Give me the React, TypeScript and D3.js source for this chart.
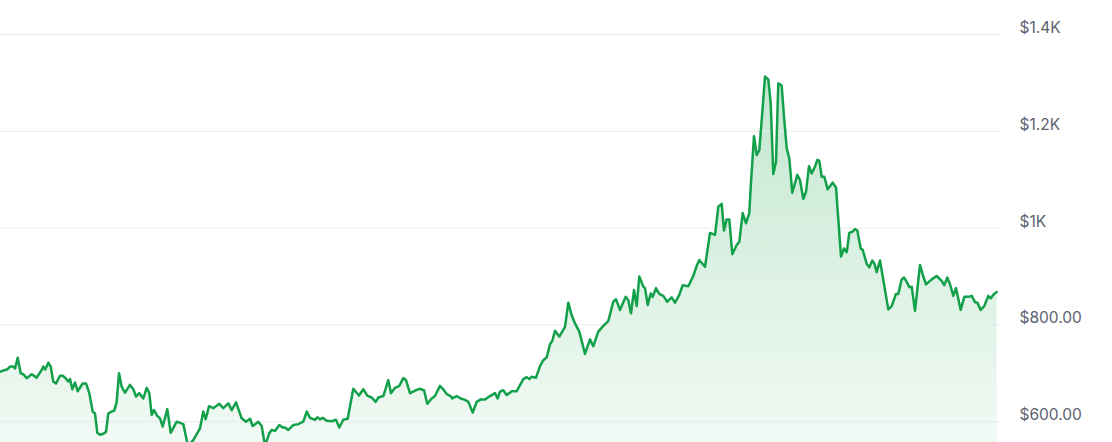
import React from "react";
import * as d3 from "d3";

// time position (day index) and price
const days: number[] = [
  0, 5, 7.3, 10, 13.3, 15, 17.7, 20.7, 23.3, 26.7, 31.7, 36.7, 41.7, 43.3, 45.3, 48.3, 50.7, 53.3, 56, 60,
  62.7, 65, 68.3, 70, 72.3, 75, 77.7, 82.7, 86, 89.3, 92.7, 95, 97.3, 100, 103.3, 106, 108.3, 111.7, 114.3, 116.7,
  119, 121.7, 125, 130, 133.3, 136, 139.3, 143.3, 146.7, 149.3, 151.7, 154, 157.3, 160, 162.7, 167.3, 170.7, 176.7, 183.3, 188,
  193.3, 200, 203.3, 205.7, 209, 213.3, 219.3, 223.3, 228.3, 231.7, 236, 241.7, 246, 250, 252.7, 258.3, 261.7, 265, 269.3, 271.7,
  275, 279.3, 282.7, 285, 288.3, 293.3, 298.3, 303.3, 306.7, 310, 315, 317.3, 320, 322.7, 326.7, 331.7, 336, 339.3, 343.3, 347.7,
  353.3, 359, 363.3, 367.3, 371.7, 375.7, 378.3, 383.3, 388.3, 391, 395, 399.3, 403.3, 406, 410, 415, 419.3, 424, 427.3, 431.7,
  435, 440, 443.3, 446.7, 450.7, 452.3, 456.7, 460.7, 465, 468.3, 472.7, 476.7, 480.7, 485, 490, 495, 497.7, 500, 503.3, 506.7,
  511.7, 516.7, 523.3, 526.7, 529.3, 531.7, 536, 540, 543.3, 546.7, 550, 552.3, 555, 559.3, 565, 568.3, 571.7, 575, 579.3, 585,
  590, 593.3, 598.3, 603.3, 608.3, 613.3, 616, 620, 625.7, 628.3, 631, 634, 636.7, 639.3, 643.3, 645, 647.7, 650.7, 652.7, 656,
  659.3, 663.3, 667.3, 671.7, 675, 679.3, 682.7, 688.3, 693.3, 696.7, 699.3, 705, 710, 715, 718.3, 721.7, 724, 726.7, 729.3, 732.3,
  736.7, 739.3, 742.7, 746, 749.3, 750.7, 754, 756.7, 759.3, 761.7, 765, 768.3, 770.7, 773.3, 776, 778.3, 781.7, 784, 786.7, 789.3,
  792.3, 797.3, 800, 803.3, 806, 809, 811.7, 815, 817.3, 819.3, 821.7, 824.3, 827.7, 832.7, 836, 841, 844, 846.7, 849.3, 852.7,
  855, 857.3, 860.7, 862.7, 866.7, 869.3, 872.3, 874.3, 876.7, 880, 888.3, 891.7, 896, 898.3, 901.7, 904, 906.7, 909.3, 911.7, 915,
  920, 923.3, 926, 931.7, 936.7, 941.7, 944.3, 947.3, 950, 953.3, 956, 960.7, 964.3, 968.3, 971.7, 975, 977.3, 980.7, 984.3, 988.3,
  990.7, 994, 996.7,
];

const prices: number[] = [
  703, 707, 708, 714, 714, 710, 732, 700, 698, 690, 698, 691, 707, 714, 708, 722, 714, 683, 679, 695,
  695, 691, 683, 688, 667, 681, 663, 679, 679, 659, 621, 617, 577, 573, 575, 579, 617, 621, 623, 641,
  700, 672, 660, 676, 667, 652, 659, 648, 670, 659, 614, 624, 612, 607, 590, 626, 577, 600, 595, 550,
  562, 586, 621, 605, 632, 628, 637, 628, 638, 624, 640, 607, 600, 606, 591, 600, 591, 550, 576, 583,
  581, 593, 588, 588, 583, 593, 595, 600, 621, 608, 604, 609, 605, 608, 602, 601, 604, 588, 604, 606,
  668, 654, 667, 654, 650, 641, 650, 653, 686, 659, 670, 674, 690, 686, 659, 664, 668, 665, 637, 648,
  653, 674, 667, 657, 653, 648, 653, 648, 645, 641, 619, 641, 646, 646, 653, 659, 648, 662, 665, 655,
  663, 663, 688, 692, 688, 693, 691, 715, 727, 733, 760, 767, 788, 776, 796, 846, 820, 803, 786, 740,
  770, 756, 786, 798, 808, 848, 853, 831, 858, 851, 824, 872, 839, 900, 879, 876, 841, 865, 858, 876,
  864, 860, 848, 857, 846, 862, 882, 880, 901, 922, 934, 920, 990, 986, 1044, 1050, 995, 1018, 1018, 946,
  965, 972, 1031, 1010, 1031, 1085, 1190, 1151, 1161, 1223, 1313, 1307, 1258, 1112, 1137, 1299, 1294, 1230, 1165, 1144,
  1073, 1110, 1099, 1060, 1075, 1128, 1113, 1127, 1141, 1139, 1106, 1106, 1080, 1094, 1084, 941, 958, 950, 990, 993,
  998, 995, 958, 955, 926, 919, 933, 927, 909, 933, 832, 839, 864, 864, 894, 898, 889, 878, 879, 829,
  924, 900, 884, 894, 901, 891, 882, 898, 884, 860, 876, 831, 858, 858, 860, 847, 846, 831, 839, 860,
  855, 864, 868,
];

const tickValues: number[] = [600, 800, 1000, 1200, 1400];
const tickLabels: string[] = ["$600.00", "$800.00", "$1K", "$1.2K", "$1.4K"];

const W = 1112;
const H = 442;

export default function App() {
  const data = days.map((d, i) => ({ d, p: prices[i] }));
  const x = d3.scaleLinear().domain([0, 997]).range([0, 997]);
  const y = d3.scaleLinear().domain([600, 1400]).range([421.7, 34.5]);

  const line = d3
    .line<{ d: number; p: number }>()
    .x((v) => x(v.d))
    .y((v) => y(v.p));
  const area = d3
    .area<{ d: number; p: number }>()
    .x((v) => x(v.d))
    .y0(H + 10)
    .y1((v) => y(v.p));

  const top = y(d3.max(prices) as number);

  return (
    <div style={{ position: "absolute", left: 0, top: 0 }}>
      <svg width={W} height={H} style={{ display: "block", background: "#fff" }}>
        <defs>
          <linearGradient id="fillGrad" gradientUnits="userSpaceOnUse" x1="0" x2="0" y1={top} y2={H}>
            <stop offset="0%" stopColor="#1aa34a" stopOpacity={0.26} />
            <stop offset="100%" stopColor="#1aa34a" stopOpacity={0.06} />
          </linearGradient>
          <clipPath id="clip">
            <rect x={0} y={0} width={W} height={H} />
          </clipPath>
        </defs>
        <g clipPath="url(#clip)">
          <path d={area(data) || ""} fill="url(#fillGrad)" />
          {tickValues.map((t) => (
            <line key={t} x1={0} x2={1000} y1={y(t)} y2={y(t)} stroke="#e9ebee" strokeWidth={1} />
          ))}
          <path
            d={line(data) || ""}
            fill="none"
            stroke="#12a04a"
            strokeWidth={2.5}
            strokeLinejoin="round"
            strokeLinecap="round"
          />
        </g>
        {tickValues.map((t, i) => (
          <text
            key={t}
            x={1019.5}
            y={y(t) - 1.5}
            fill="#5b616e"
            fontFamily="Inter, 'Noto Sans', sans-serif"
            fontSize={15.5}
          >
            {tickLabels[i]}
          </text>
        ))}
      </svg>
    </div>
  );
}
